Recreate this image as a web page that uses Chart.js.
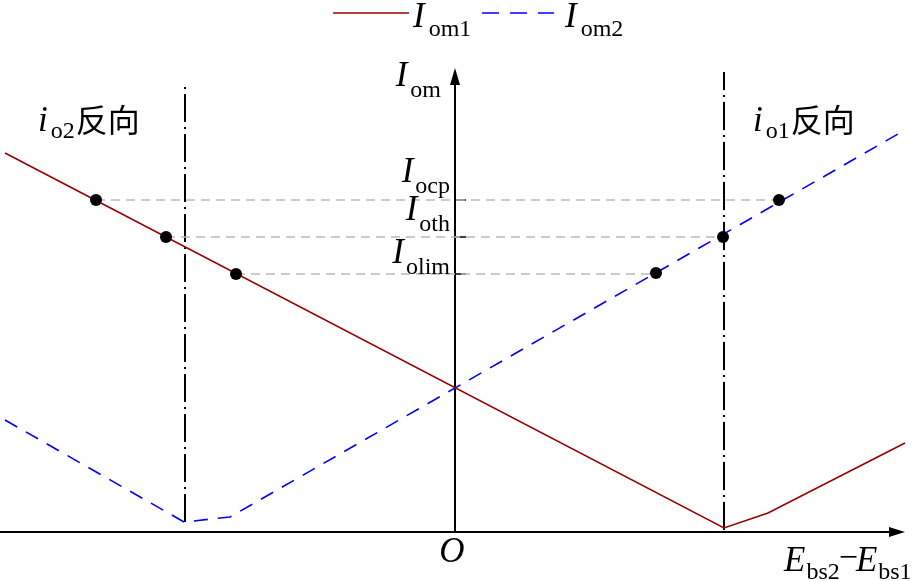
<!DOCTYPE html>
<html><head><meta charset="utf-8">
<script src="https://cdn.jsdelivr.net/npm/chart.js@4/dist/chart.umd.min.js"></script>
<style>html,body{margin:0;padding:0;background:#fff;overflow:hidden}#wrap{width:917px;height:581px}</style>
</head><body><div id="wrap"><canvas id="c" width="917" height="581"></canvas></div>
<script>
// Data (x = E_bs2 - E_bs1, y = I_om), arbitrary units
const seriesNames = ['om1', 'om2'];
const iom1Points = [[-45.0, 37.9], [26.9, 0.4], [31.3, 1.9], [45.0, 8.9]];
const iom2Points = [[-45.0, 11.2], [-27.1, 1.0], [-22.5, 1.5], [45.0, 40.2]];
const markerPoints = [[-35.9, 33.2], [-28.9, 29.5], [-21.9, 25.8], [20.1, 25.9], [26.8, 29.5], [32.4, 33.2]];
const levelNames = ['ocp', 'oth', 'olim'];
const levelValues = [33.2, 29.5, 25.8];
const levelFrom = [-35.9, -28.9, -21.9];
const levelTo = [32.4, 26.8, 20.1];
const boundaryX = [-27.0, 26.9];
const boundaryBottom = [1.0, 0.2];
const boundaryTop = [44.9, 46.0];
const regionSubs = ['o2', 'o1'];
const regionText = '反向';

const toXY = a => a.map(p => ({x: p[0], y: p[1]}));
const datasets = [
  {label: 'I_om1', data: toXY(iom1Points), showLine: true, borderColor: '#990000', borderWidth: 1.6, pointRadius: 0, tension: 0, order: 1},
  {label: 'I_om2', data: toXY(iom2Points), showLine: true, borderColor: '#0000ff', borderWidth: 1.6, borderDash: [14, 10], pointRadius: 0, tension: 0, order: 2},
];
levelValues.forEach((v, i) => datasets.push({label: 'level ' + levelNames[i], data: [{x: levelFrom[i], y: v}, {x: levelTo[i], y: v}], showLine: true, borderColor: '#bbbbbb', borderWidth: 1.5, borderDash: [9, 6], pointRadius: 0, order: 3}));
boundaryX.forEach((bx, i) => datasets.push({label: 'boundary', data: [{x: bx, y: boundaryBottom[i]}, {x: bx, y: boundaryTop[i]}], showLine: true, borderColor: '#000', borderWidth: 2, borderDash: [28, 5, 2, 5], pointRadius: 0, order: 3}));
datasets.push({label: 'points', data: toXY(markerPoints), showLine: false, pointRadius: 6, pointBackgroundColor: '#000', pointBorderColor: '#000', pointBorderWidth: 0, order: 0});

const SERIF = "'Liberation Serif', 'Times New Roman', serif";
const CJK = "'Noto Sans CJK SC', sans-serif";
const MAIN = 'italic 35px ' + SERIF;
const SUB = '24px ' + SERIF;

function drawSub(ctx, x, y, main, sub, align, gap, subDy) {
  ctx.font = MAIN; const wm = ctx.measureText(main).width;
  ctx.font = SUB; const ws = ctx.measureText(sub).width;
  const total = wm + gap + ws;
  let sx = align === 'right' ? x - total : (align === 'center' ? x - total / 2 : x);
  ctx.font = MAIN; ctx.fillText(main, sx, y);
  ctx.font = SUB; ctx.fillText(sub, sx + wm + gap, y + subDy);
  return sx + total;
}

const decor = {
  id: 'decor',
  beforeDatasetsDraw(chart) {
    const ctx = chart.ctx, xs = chart.scales.x, ys = chart.scales.y;
    const x0 = xs.getPixelForValue(0), y0 = ys.getPixelForValue(0);
    ctx.save();
    ctx.strokeStyle = '#000'; ctx.fillStyle = '#000'; ctx.lineWidth = 2; ctx.setLineDash([]);
    // x axis
    const xEnd = xs.getPixelForValue(45.0);
    ctx.beginPath(); ctx.moveTo(xs.left, y0); ctx.lineTo(xEnd - 8, y0); ctx.stroke();
    ctx.beginPath(); ctx.moveTo(xEnd, y0); ctx.lineTo(xEnd - 16, y0 - 5); ctx.lineTo(xEnd - 16, y0 + 5); ctx.closePath(); ctx.fill();
    // y axis
    const yEnd = ys.getPixelForValue(46.4);
    ctx.beginPath(); ctx.moveTo(x0, y0); ctx.lineTo(x0, yEnd + 8); ctx.stroke();
    ctx.beginPath(); ctx.moveTo(x0, yEnd); ctx.lineTo(x0 - 5, yEnd + 17); ctx.lineTo(x0 + 5, yEnd + 17); ctx.closePath(); ctx.fill();
    // ticks
    ctx.lineWidth = 1.5;
    levelValues.forEach(v => { const py = ys.getPixelForValue(v); ctx.beginPath(); ctx.moveTo(x0, py); ctx.lineTo(x0 + 11, py); ctx.stroke(); });
    ctx.restore();
  },
  afterDraw(chart) {
    const ctx = chart.ctx, xs = chart.scales.x, ys = chart.scales.y;
    const x0 = xs.getPixelForValue(0), y0 = ys.getPixelForValue(0);
    ctx.save();
    ctx.fillStyle = '#000'; ctx.textBaseline = 'alphabetic';
    // legend
    ctx.lineWidth = 1.6;
    ctx.strokeStyle = '#990000'; ctx.setLineDash([]);
    ctx.beginPath(); ctx.moveTo(333, 13); ctx.lineTo(409, 13); ctx.stroke();
    drawSub(ctx, 413, 27, 'I', seriesNames[0], 'left', 4, 9);
    ctx.strokeStyle = '#0000ff'; ctx.setLineDash([17, 11]);
    ctx.beginPath(); ctx.moveTo(482, 13); ctx.lineTo(554, 13); ctx.stroke();
    ctx.setLineDash([]);
    drawSub(ctx, 565, 27, 'I', seriesNames[1], 'left', 4, 9);
    // y axis title
    drawSub(ctx, x0 - 14, 86, 'I', 'om', 'right', 3, 11);
    // level labels
    const lblY = [182, 220, 263];
    levelNames.forEach((n, i) => drawSub(ctx, x0 - 5, lblY[i], 'I', n, 'right', 2, 11));
    // region labels
    let e = drawSub(ctx, 38, 131, 'i', regionSubs[0], 'left', 3, 7);
    ctx.font = '32px ' + CJK; ctx.fillText(regionText, e + 1, 132);
    e = drawSub(ctx, 753, 131, 'i', regionSubs[1], 'left', 3, 7);
    ctx.font = '32px ' + CJK; ctx.fillText(regionText, e + 1, 132);
    // origin
    ctx.font = MAIN; ctx.textAlign = 'center'; ctx.fillText('O', x0 - 3, 562); ctx.textAlign = 'left';
    // x axis title
    e = drawSub(ctx, 784, 571, 'E', 'bs2', 'left', 1, 8);
    ctx.font = '34px ' + SERIF; const wm = ctx.measureText('\u2212').width; ctx.fillText('\u2212', e - 1, 568);
    drawSub(ctx, e - 3 + wm, 571, 'E', 'bs1', 'left', 1, 8);
    ctx.restore();
  }
};

new Chart(document.getElementById('c'), {
  type: 'scatter',
  data: {datasets},
  options: {
    responsive: false, animation: false, devicePixelRatio: 1,
    layout: {padding: 0, autoPadding: false},
    plugins: {legend: {display: false}, tooltip: {enabled: false}, title: {display: false}},
    scales: {
      x: {type: 'linear', min: -45.5, max: 46.2, display: false},
      y: {type: 'linear', min: -4.9, max: 53.2, display: false}
    }
  },
  plugins: [decor]
});
</script></body></html>
